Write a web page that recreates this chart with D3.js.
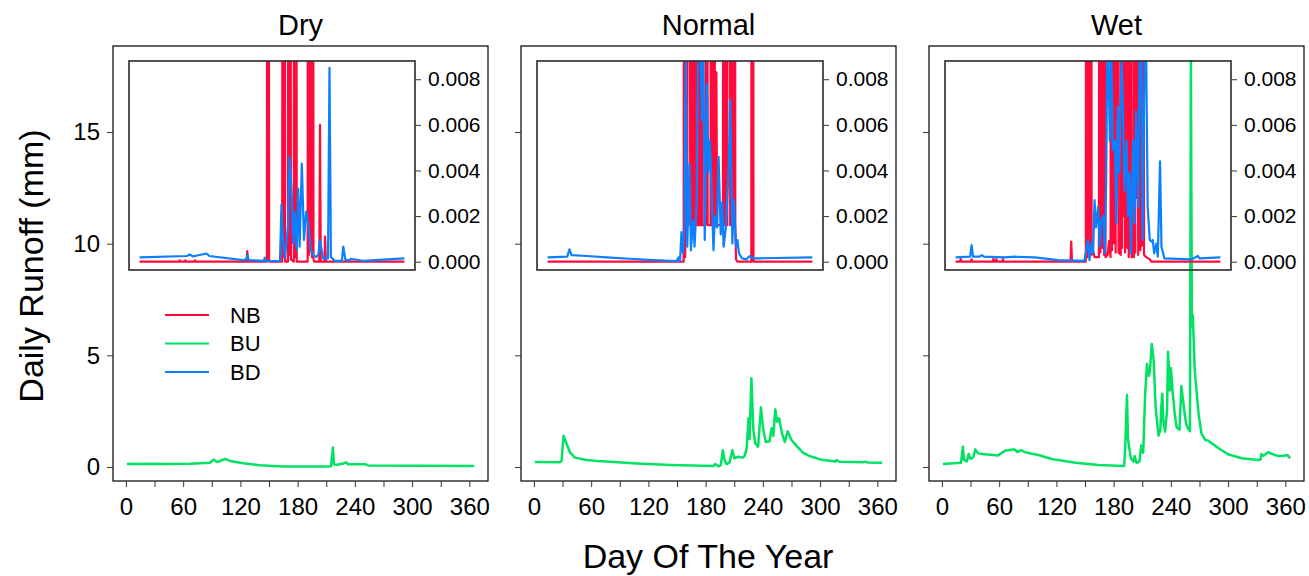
<!DOCTYPE html>
<html>
<head>
<meta charset="utf-8">
<script src="https://cdn.jsdelivr.net/npm/d3@7"></script>
<style>
  body { margin: 0; background: #fff; }
  text { font-family: "Liberation Sans", Arial, Helvetica, sans-serif; fill: #000; }
</style>
</head>
<body>
<svg id="chart" width="1309" height="576"></svg>
<script>
// ---- categories and tick labels ----
const panelTitles = ["Dry", "Normal", "Wet"];
const seriesNames = ["NB", "BU", "BD"];
const dayTicks = [0, 30, 60, 90, 120, 150, 180, 210, 240, 270, 300, 330, 360];
const dayTickLabels = [0, 60, 120, 180, 240, 300, 360];
const runoffTicks = [0, 5, 10, 15];
const insetTicks = [0, 0.002, 0.004, 0.006, 0.008];

// ---- daily runoff (mm), [day of year, value] ----
// BU: shown on the main axes
const dryBU = [[1,0.13],[34,0.15],[37,0.13],[67,0.15],[88,0.19],[92,0.33],[96,0.22],[99,0.28],[104,0.36],[109,0.27],[123,0.17],[140,0.08],[165,0.02],[214,0.02],[215,0.05],[217,0.87],[218,0.13],[220,0.09],[228,0.16],[231,0.21],[233,0.12],[251,0.12],[254,0.07],[365,0.045]];
const normalBU = [[1,0.22],[27,0.21],[29,0.27],[31,1.40],[34,1.06],[38,0.64],[43,0.42],[55,0.31],[66,0.27],[76,0.25],[108,0.16],[143,0.09],[188,0.04],[190,0.13],[194,0.03],[196,0.10],[198,0.75],[200,0.28],[202,0.13],[205,0.20],[208,0.75],[210,0.39],[214,0.46],[219,0.42],[221,0.51],[223,0.84],[225,2.18],[226,1.25],[228,3.97],[230,1.66],[232,1.06],[235,0.91],[238,2.67],[240,1.79],[243,1.12],[247,1.15],[249,1.73],[251,1.39],[253,2.58],[255,2.03],[257,2.18],[260,1.51],[263,1.12],[266,1.60],[270,1.21],[276,0.91],[282,0.64],[289,0.49],[300,0.34],[316,0.25],[317,0.31],[320,0.24],[345,0.21],[348,0.24],[350,0.20],[365,0.19]];
const wetBU = [[1,0.13],[20,0.19],[22,0.91],[23,0.33],[26,0.25],[28,0.58],[30,0.36],[33,0.45],[35,0.79],[38,0.61],[45,0.57],[59,0.52],[66,0.73],[76,0.79],[79,0.67],[83,0.76],[87,0.66],[101,0.54],[115,0.36],[140,0.19],[164,0.09],[191,0.045],[192,0.70],[194,3.22],[195,1.25],[198,0.39],[201,0.24],[202,0.49],[204,0.19],[207,0.24],[209,0.96],[211,0.64],[213,3.22],[215,4.61],[216,4.20],[217,4.08],[218,4.30],[220,5.51],[222,4.76],[224,2.69],[227,1.40],[229,1.66],[230,2.69],[231,3.28],[232,2.09],[234,1.58],[236,2.54],[237,5.16],[239,3.43],[240,4.43],[242,3.28],[244,2.39],[246,1.79],[249,1.66],[251,3.63],[254,2.54],[256,1.94],[258,1.72],[260,1.60],[261,18.18],[262,6.30],[263,6.80],[264,5.60],[265,4.34],[269,2.39],[272,1.51],[276,1.21],[279,1.18],[282,1.09],[290,0.84],[300,0.57],[314,0.39],[332,0.31],[334,0.33],[335,0.58],[337,0.50],[342,0.66],[348,0.55],[353,0.49],[358,0.50],[362,0.54],[365,0.39]];

// NB and BD: shown on the inset axes (values above the inset range are clipped)
const dryNB = [[1,0],[55,0],[56,0.00006],[57,0],[63,0],[64,0.00006],[65,0],[76,0],[77,0.00006],[78,0],[148,0],[149,0.00047],[150,0],[176,0],[177,0.05],[178,0.05],[179,0],[197,0],[198,0.05],[199,0.0002],[200,0.05],[201,0],[205,0],[206,0.05],[207,0.0003],[208,0.05],[209,0.0001],[213,0],[214,0.05],[215,0.0002],[216,0.05],[217,0],[232,0],[233,0.05],[234,0.0003],[235,0.05],[236,0.0005],[237,0.05],[238,0.0002],[239,0.05],[240,0.0001],[241,0],[248,0],[249,0.006],[250,0],[255,0],[256,0.0011],[257,0],[365,0]];
const dryBD = [[1,0.00019],[66,0.00025],[70,0.00032],[74,0.00023],[93,0.00036],[97,0.00025],[143,0.00007],[148,0.0001],[149,0.0003],[151,0.00007],[172,0.00004],[173,0.00018],[175,0.00003],[194,0.00004],[196,0.0025],[198,0.0009],[201,0.0002],[203,0.00095],[205,0.0015],[207,0.0046],[210,0.0031],[212,0.0008],[214,0.0022],[217,0.0005],[219,0.0032],[221,0.00066],[224,0.0043],[227,0.00095],[230,0.0022],[233,0.0016],[236,0.0006],[239,0.0003],[244,0.0002],[247,0.00036],[249,0.00095],[253,0.00015],[260,0.00015],[262,0.0085],[264,0.0002],[269,0.00004],[279,0.00004],[281,0.00066],[284,0.00007],[290,0.00007],[291,0.00012],[308,0.00004],[365,0.00015]];
const normalNB = [[1,0],[188,0],[189,0.05],[190,0.0002],[191,0.0016],[192,0.05],[193,0.0016],[195,0.05],[196,0.05],[197,0.0016],[199,0.0016],[200,0.05],[201,0.05],[202,0.0016],[204,0.0016],[205,0.05],[206,0.0016],[209,0.0016],[210,0.05],[211,0.0016],[212,0.0016],[213,0.05],[214,0.0016],[218,0.0016],[219,0.05],[220,0.05],[221,0.0016],[225,0.0016],[226,0.05],[227,0.0016],[228,0.0016],[229,0.05],[230,0.05],[231,0.0016],[232,0.0016],[233,0.0083],[234,0.0016],[242,0.0016],[243,0.05],[244,0.0016],[245,0.0016],[246,0.05],[247,0.0016],[248,0.0016],[249,0.05],[250,0.05],[251,0.05],[252,0.0016],[253,0.05],[254,0.0016],[255,0.0016],[256,0.05],[257,0.0016],[258,0.05],[259,0.0016],[260,0.0001],[262,0],[281,0],[282,0.05],[283,0.05],[284,0],[365,0]];
const normalBD = [[1,0.00019],[28,0.00022],[31,0.00054],[34,0.00029],[55,0.00025],[82,0.00019],[114,0.00013],[146,0.00007],[178,0.00003],[181,0.00019],[183,0],[185,0.0013],[187,0.00037],[189,0.0015],[191,0.0095],[193,0.00066],[196,0.0043],[198,0.0005],[201,0.0018],[203,0.00066],[206,0.0027],[208,0.0105],[210,0.012],[213,0.0062],[215,0.0098],[217,0.00095],[220,0.0078],[222,0.0039],[224,0.0053],[226,0.0037],[229,0.0005],[231,0.002],[234,0.0015],[236,0.0046],[239,0.0012],[241,0.0026],[243,0.00066],[246,0.0015],[248,0.0028],[250,0.0042],[252,0.0071],[255,0.0008],[257,0.0027],[260,0.00066],[262,0.00095],[264,0.00037],[268,0.00015],[274,0.0001],[279,0.00025],[284,0.00015],[293,0.00015],[365,0.00019]];
const wetNB = [[1,0],[7,0],[8,0.00012],[9,0],[22,0],[23,0.0001],[24,0],[52,0],[53,0.00012],[54,0],[56,0],[57,0.00012],[58,0],[65,0],[66,0.00012],[67,0],[159,0],[160,0.00088],[161,0],[180,0],[181,0.05],[182,0.0002],[184,0.05],[185,0.0003],[187,0.05],[188,0.0003],[190,0.0005],[192,0.0002],[198,0.0002],[199,0.05],[200,0.0004],[201,0.05],[202,0.05],[203,0.0006],[204,0.05],[205,0.0003],[206,0.05],[207,0.0002],[210,0.0003],[212,0.0009],[214,0.0002],[215,0.05],[216,0.0005],[217,0.05],[218,0.05],[219,0.0008],[220,0.05],[221,0.0004],[222,0.05],[223,0.0062],[224,0.05],[225,0.0004],[228,0.0003],[229,0.05],[230,0.0006],[231,0.05],[232,0.002],[233,0.05],[234,0.0004],[235,0.05],[236,0.05],[237,0.0006],[238,0.05],[239,0.0002],[240,0.05],[241,0.0005],[242,0.05],[243,0.0002],[246,0.0002],[247,0.05],[248,0.0004],[249,0.05],[250,0.0028],[251,0.05],[252,0.0003],[254,0.05],[255,0.0005],[256,0.05],[257,0.0007],[258,0.0012],[259,0.05],[260,0.0003],[263,0.0002],[268,0.0001],[270,0],[365,0]];
const wetBD = [[1,0.00019],[21,0.00022],[23,0.00073],[25,0.00022],[34,0.00022],[37,0.00029],[40,0.00022],[69,0.00019],[82,0.00022],[110,0.00019],[142,0.00007],[178,0.00004],[183,0.00095],[185,0.00007],[188,0.0008],[190,0.00037],[192,0.0027],[194,0.0015],[197,0.0024],[199,0.00066],[201,0.0018],[204,0.002],[206,0.00037],[208,0.0036],[210,0.011],[213,0.0053],[215,0.0095],[217,0.0049],[220,0.0053],[222,0.0017],[224,0.0068],[226,0.0039],[229,0.0092],[231,0.0067],[233,0.0031],[236,0.0053],[238,0.002],[240,0.0039],[242,0.00037],[245,0.0053],[247,0.0017],[249,0.0066],[252,0.0024],[254,0.0092],[256,0.01],[258,0.00095],[261,0.0095],[263,0.0091],[265,0.0024],[268,0.00095],[270,0.00088],[272,0.00095],[274,0.00037],[277,0.0008],[279,0.00022],[282,0.0044],[284,0.00066],[288,0.00015],[325,0.0001],[334,0.00025],[336,0.00015],[365,0.00019]];

const panels = [
  { title: panelTitles[0], NB: dryNB,    BU: dryBU,    BD: dryBD },
  { title: panelTitles[1], NB: normalNB, BU: normalBU, BD: normalBD },
  { title: panelTitles[2], NB: wetNB,    BU: wetBU,    BD: wetBD }
];

// ---- styling / layout ----
const colors = { NB: "#ff0a3c", BU: "#00e262", BD: "#0a80ff" };
const panelLefts = [113, 521, 929];
const panelW = 375, panelTop = 46, panelBottom = 481;
const inset = { left: 16, right: 302, top: 61, bottom: 270 };
const dayDomain = [-13.56, 379.56];

const svg = d3.select("#chart");

panels.forEach((p, i) => {
  const L = panelLefts[i];
  const g = svg.append("g");

  const x = d3.scaleLinear().domain(dayDomain).range([L, L + panelW]);
  const y = d3.scaleLinear().domain([-0.627, 18.85]).range([panelBottom, panelTop]);

  // main BU line (drawn first so the inset sits over it)
  const mainLine = d3.line().x(d => x(d[0])).y(d => y(d[1]));
  g.append("path").datum(p.BU)
    .attr("d", mainLine)
    .attr("fill", "none").attr("stroke", colors.BU)
    .attr("stroke-width", 2.5).attr("stroke-linejoin", "round");

  // panel frame
  g.append("rect").attr("x", L).attr("y", panelTop)
    .attr("width", panelW).attr("height", panelBottom - panelTop)
    .attr("fill", "none").attr("stroke", "#000").attr("stroke-width", 1.2);

  // bottom axis
  const xAxis = d3.axisBottom(x).tickValues(dayTicks)
    .tickFormat(d => dayTickLabels.includes(d) ? d : "")
    .tickSize(6).tickPadding(11);
  const gx = g.append("g").attr("transform", `translate(0,${panelBottom})`).call(xAxis);
  gx.select(".domain").remove();
  gx.selectAll("line").attr("stroke", "#333");
  gx.selectAll("text").style("font-size", "24px").attr("fill", "#000");

  // left axis
  const yAxis = d3.axisLeft(y).tickValues(runoffTicks)
    .tickFormat(d => i === 0 ? d : "")
    .tickSize(6).tickPadding(7);
  const gy = g.append("g").attr("transform", `translate(${L},0)`).call(yAxis);
  gy.select(".domain").remove();
  gy.selectAll("line").attr("stroke", "#333");
  gy.selectAll("text").style("font-size", "24px").attr("fill", "#000");

  // panel title
  g.append("text").attr("x", L + panelW / 2).attr("y", 25)
    .attr("text-anchor", "middle").attr("dominant-baseline", "central")
    .style("font-size", "29px").text(p.title);

  // ---- inset with NB and BD ----
  const ix = d3.scaleLinear().domain(dayDomain).range([L + inset.left, L + inset.right]);
  const iy = d3.scaleLinear().domain([-0.000364, 0.0088]).range([inset.bottom, inset.top]);
  const clipId = "inset-clip-" + i;
  svg.append("clipPath").attr("id", clipId).append("rect")
    .attr("x", L + inset.left).attr("y", inset.top)
    .attr("width", inset.right - inset.left).attr("height", inset.bottom - inset.top);

  const insetLine = d3.line().x(d => ix(d[0])).y(d => iy(d[1]));
  const ig = g.append("g").attr("clip-path", `url(#${clipId})`);
  ["NB", "BD"].forEach(k => {
    ig.append("path").datum(p[k])
      .attr("d", insetLine)
      .attr("fill", "none").attr("stroke", colors[k])
      .attr("stroke-width", 2.2).attr("stroke-linejoin", "round");
  });

  g.append("rect").attr("x", L + inset.left).attr("y", inset.top)
    .attr("width", inset.right - inset.left).attr("height", inset.bottom - inset.top)
    .attr("fill", "none").attr("stroke", "#2a2a2a").attr("stroke-width", 1.6);

  const iAxis = d3.axisRight(iy).tickValues(insetTicks)
    .tickFormat(d3.format(".3f")).tickSize(6).tickPadding(7);
  const gi = g.append("g").attr("transform", `translate(${L + inset.right},0)`).call(iAxis);
  gi.select(".domain").remove();
  gi.selectAll("line").attr("stroke", "#333");
  gi.selectAll("text").style("font-size", "21px").attr("fill", "#000");

  // legend in the first panel
  if (i === 0) {
    seriesNames.forEach((name, j) => {
      const ly = 315 + j * 28.5;
      g.append("line").attr("x1", L + 52).attr("x2", L + 96)
        .attr("y1", ly).attr("y2", ly)
        .attr("stroke", colors[name]).attr("stroke-width", 2.2);
      g.append("text").attr("x", L + 117).attr("y", ly)
        .attr("dominant-baseline", "central")
        .style("font-size", "22px").text(name);
    });
  }
});

// shared axis titles
svg.append("text")
  .attr("transform", "translate(31,266) rotate(-90)")
  .attr("text-anchor", "middle").attr("dominant-baseline", "central")
  .style("font-size", "34px").text("Daily Runoff (mm)");
svg.append("text")
  .attr("x", 708).attr("y", 556)
  .attr("text-anchor", "middle").attr("dominant-baseline", "central")
  .style("font-size", "34px").text("Day Of The Year");
</script>
</body>
</html>
